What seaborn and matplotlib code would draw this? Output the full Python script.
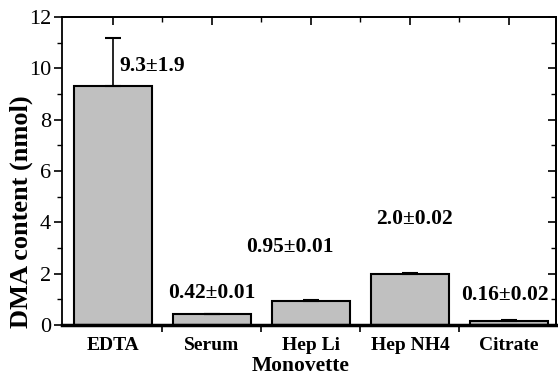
import matplotlib
matplotlib.use("Agg")
import matplotlib.pyplot as plt
from matplotlib.ticker import MultipleLocator, FixedLocator
import seaborn as sns
import pandas as pd

categories = ["EDTA", "Serum", "Hep Li", "Hep NH4", "Citrate"]
values = [9.3, 0.42, 0.95, 2.0, 0.16]
errors = [1.9, 0.01, 0.01, 0.02, 0.02]
labels = ["9.3\u00b11.9", "0.42\u00b10.01", "0.95\u00b10.01", "2.0\u00b10.02", "0.16\u00b10.02"]

sns.set_style("ticks")
plt.rcParams['font.family'] = ['Liberation Serif', 'DejaVu Serif']
plt.rcParams.update({"text.color": "black", "axes.labelcolor": "black",
                     "xtick.color": "black", "ytick.color": "black",
                     "axes.edgecolor": "black"})

df = pd.DataFrame({"cat": categories, "val": values})

fig = plt.figure(figsize=(5.58, 3.75), dpi=100)
ax = fig.add_axes([62/558, 1-325/375, (556-62)/558, (325-17)/375])

sns.barplot(data=df, x="cat", y="val", order=categories, color="#c0c0c0",
            edgecolor="black", linewidth=1.5, width=0.78, saturation=1,
            errorbar=None, ax=ax, zorder=2)
xs = list(range(len(categories)))
ax.errorbar(xs, values, yerr=[[0]*len(errors), errors], fmt="none",
            ecolor="black", elinewidth=1.2, capsize=6, capthick=1.5, zorder=3)

ax.set_xlim(-0.515, 4.475)
ax.set_ylim(0, 12)

# annotation placement (layout only)
lab_dx = [0.06, 0.0, -0.21, 0.04, -0.04]
lab_y = [10.1, 1.25, 3.02, 4.12, 1.18]
lab_ha = ["left", "center", "center", "center", "center"]
for i, t in enumerate(labels):
    ax.text(xs[i] + lab_dx[i], lab_y[i], t, ha=lab_ha[i], va="center",
            fontsize=15.5, fontweight="bold", color="black")

for s in ax.spines.values():
    s.set_visible(True)
    s.set_linewidth(1.3)
    s.set_color("black")
ax.spines["bottom"].set_linewidth(2.5)

ax.yaxis.set_major_locator(MultipleLocator(2))
ax.yaxis.set_minor_locator(MultipleLocator(1))
ax.xaxis.set_minor_locator(FixedLocator([0.5, 1.5, 2.5, 3.5]))

ax.tick_params(axis="y", which="major", left=True, right=False, direction="out",
               length=6, width=1.2, labelsize=16, pad=2, colors="black")
ax.tick_params(axis="y", which="minor", left=True, right=False, direction="out",
               length=3.5, width=1.0)
ax.tick_params(axis="x", which="major", bottom=True, top=False, length=0,
               labelsize=14, pad=9, colors="black")
ax.tick_params(axis="x", which="minor", bottom=True, top=False, direction="out",
               length=5, width=1.2)

ax_r = ax.secondary_yaxis("right")
ax_r.yaxis.set_major_locator(MultipleLocator(2))
ax_r.yaxis.set_minor_locator(MultipleLocator(1))
ax_r.tick_params(which="major", direction="in", length=6, width=1.2, labelright=False)
ax_r.tick_params(which="minor", direction="in", length=3.5, width=1.0)
ax_r.spines["right"].set_linewidth(1.3)
ax_t = ax.secondary_xaxis("top")
ax_t.xaxis.set_major_locator(FixedLocator(xs))
ax_t.xaxis.set_minor_locator(FixedLocator([0.5, 1.5, 2.5, 3.5]))
ax_t.tick_params(which="major", direction="in", length=6, width=1.2, labeltop=False)
ax_t.tick_params(which="minor", direction="in", length=3.5, width=1.0)
ax_t.spines["top"].set_linewidth(1.3)

for lab in ax.get_xticklabels():
    lab.set_fontweight("bold")

ax.set_xlabel("Monovette", fontsize=15.5, fontweight="bold")
ax.xaxis.label.set_va("center")
ax.xaxis.set_label_coords((301-62)/494, (325-366)/308)
ax.set_ylabel("DMA content (nmol)", fontsize=19, fontweight="bold")
ax.yaxis.label.set_va("center")
ax.yaxis.set_label_coords((21-62)/494, (325-212)/308)

fig.savefig("out.png", dpi=100)
